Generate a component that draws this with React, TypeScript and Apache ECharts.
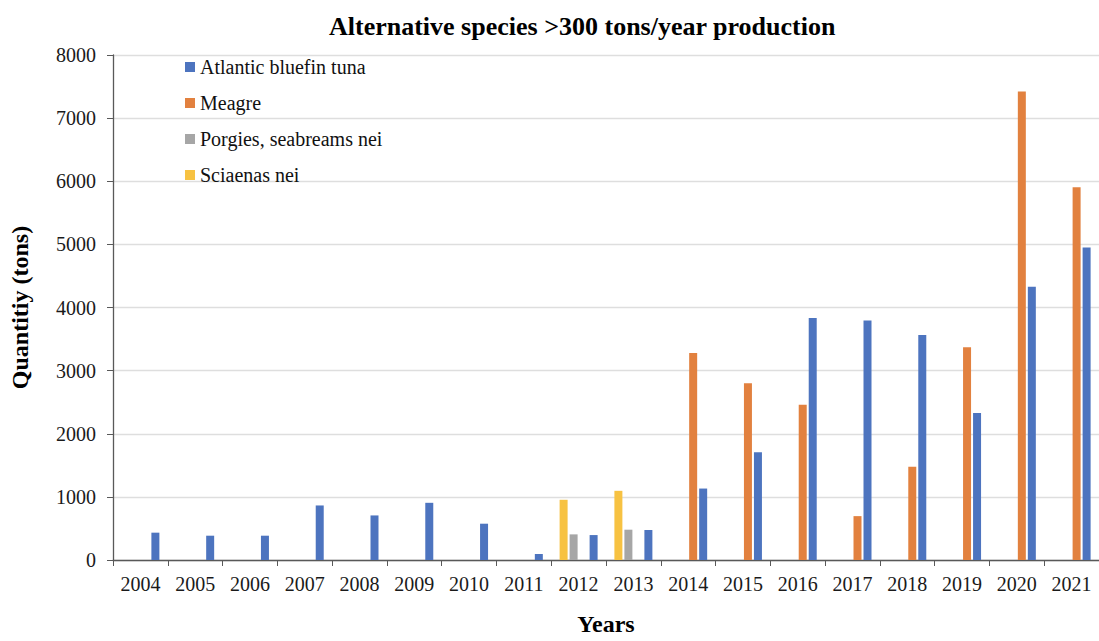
import React, { useEffect, useRef } from "react";
import * as echarts from "echarts";

const years = ["2004", "2005", "2006", "2007", "2008", "2009", "2010", "2011", "2012", "2013", "2014", "2015", "2016", "2017", "2018", "2019", "2020", "2021"];
const atlanticBluefinTuna = [433, 385, 385, 864, 706, 906, 575, 95, 395, 475, 1132, 1705, 3835, 3796, 3566, 2327, 4330, 4949];
const meagre = [null, null, null, null, null, null, null, null, null, null, 3280, 2801, 2458, 695, 1479, 3370, 7421, 5905];
const porgies = [null, null, null, null, null, null, null, null, 406, 480, null, null, null, null, null, null, null, null];
const sciaenas = [null, null, null, null, null, null, null, null, 954, 1096, null, null, null, null, null, null, null, null];
const yTicks = { min: 0, max: 8000, interval: 1000 };

const FONT = "'Liberation Serif', 'Times New Roman', serif";

export default function App() {
  const ref = useRef<HTMLDivElement>(null);
  useEffect(() => {
    if (!ref.current) return;
    const chart = echarts.init(ref.current, null, { renderer: "svg" });
    const mk = (name: string, data: (number | null)[], color: string) => ({
      name,
      type: "bar",
      data,
      barWidth: 8,
      barGap: "25%",
      itemStyle: { color },
    });
    chart.setOption({
      animation: false,
      textStyle: { fontFamily: FONT },
      title: {
        text: "Alternative species >300 tons/year production",
        left: 324,
        top: 8,
        textStyle: { fontFamily: FONT, fontSize: 26, fontWeight: "bold", color: "#000" },
      },
      legend: {
        orient: "vertical",
        left: 180,
        top: 52,
        icon: "rect",
        itemWidth: 10,
        itemHeight: 10,
        itemGap: 16,
        data: ["Atlantic bluefin tuna", "Meagre", "Porgies, seabreams nei", "Sciaenas nei"],
        textStyle: { fontFamily: FONT, fontSize: 20, color: "#111", lineHeight: 20 },
      },
      grid: { left: 112.5, right: 0, top: 55, bottom: 79.3, containLabel: false },
      xAxis: {
        type: "category",
        data: years,
        name: "Years",
        nameLocation: "middle",
        nameGap: 52,
        nameTextStyle: { fontFamily: FONT, fontSize: 24, fontWeight: "bold", color: "#000" },
        axisLine: { lineStyle: { color: "#595959", width: 1.3 } },
        axisTick: { show: true, length: 6, lineStyle: { color: "#595959" } },
        axisLabel: { interval: 0, margin: 14, fontFamily: FONT, fontSize: 20, color: "#1a1a1a" },
      },
      yAxis: {
        type: "value",
        min: yTicks.min,
        max: yTicks.max,
        interval: yTicks.interval,
        name: "Quantitiy (tons)",
        nameLocation: "middle",
        nameGap: 81,
        nameTextStyle: { fontFamily: FONT, fontSize: 24, fontWeight: "bold", color: "#000" },
        axisLine: { show: true, lineStyle: { color: "#595959", width: 1.3 } },
        axisTick: { show: true, length: 6, lineStyle: { color: "#595959" } },
        axisLabel: {
          margin: 17,
          fontFamily: FONT,
          fontSize: 20,
          color: "#1a1a1a",
          formatter: (v: number) => String(v),
        },
        splitLine: { lineStyle: { color: "#dedede", width: 1.3 } },
      },
      series: [
        mk("Sciaenas nei", sciaenas, "#f7c242"),
        mk("Porgies, seabreams nei", porgies, "#a6a6a6"),
        mk("Meagre", meagre, "#e2813f"),
        mk("Atlantic bluefin tuna", atlanticBluefinTuna, "#4d74bf"),
      ],
    });
    return () => chart.dispose();
  }, []);
  return (
    <div
      ref={ref}
      style={{ position: "fixed", left: 0, top: 0, width: 1099, height: 641, background: "#fff" }}
    />
  );
}
